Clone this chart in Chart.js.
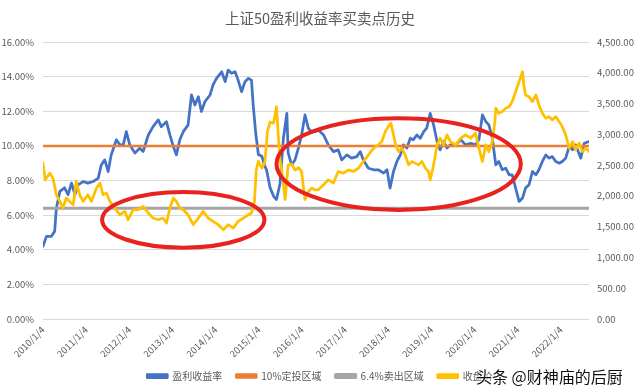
<!DOCTYPE html>
<html><head><meta charset="utf-8">
<script src="https://cdn.jsdelivr.net/npm/chart.js@4.4.1/dist/chart.umd.min.js"></script>
<style>
html,body{margin:0;padding:0;background:#fff;overflow:hidden}
#wrap{position:relative;width:640px;height:391px}
#wm{position:absolute;left:476px;top:364px;font:16px "Noto Sans CJK SC",sans-serif;color:#111;white-space:nowrap;
text-shadow:0 0 2px #fff,0 0 2px #fff,0 0 3px #fff}
</style></head>
<body><div id="wrap"><canvas id="c" width="640" height="391"></canvas><div id="wm">头条 @财神庙的后厨</div></div>
<script>
// ---------- data ----------
const xTickLabels = ['2010/1/4','2011/1/4','2012/1/4','2013/1/4','2014/1/4','2015/1/4','2016/1/4',
  '2017/1/4','2018/1/4','2019/1/4','2020/1/4','2021/1/4','2022/1/4'];

const yieldDates = [
2010.00,2010.08,2010.19,2010.27,2010.31,2010.39,2010.50,2010.58,2010.66,2010.74,
2010.81,2010.93,2011.04,2011.16,2011.28,2011.35,2011.43,2011.51,2011.58,2011.70,
2011.78,2011.86,2011.93,2012.01,2012.13,2012.24,2012.32,2012.44,2012.55,2012.67,
2012.74,2012.86,2012.94,2013.02,2013.09,2013.17,2013.25,2013.36,2013.44,2013.52,
2013.60,2013.67,2013.75,2013.87,2013.94,2014.02,2014.14,2014.22,2014.29,2014.37,
2014.45,2014.52,2014.60,2014.68,2014.76,2014.83,2014.87,2014.93,2014.99,2015.07,
2015.13,2015.18,2015.26,2015.34,2015.41,2015.49,2015.57,2015.65,2015.68,2015.76,
2015.84,2015.92,2015.99,2016.07,2016.15,2016.23,2016.30,2016.38,2016.50,2016.61,
2016.73,2016.84,2016.92,2017.04,2017.15,2017.27,2017.35,2017.42,2017.54,2017.66,
2017.77,2017.89,2017.97,2018.04,2018.12,2018.20,2018.28,2018.35,2018.43,2018.51,
2018.58,2018.66,2018.74,2018.82,2018.89,2018.97,2019.05,2019.13,2019.20,2019.28,
2019.36,2019.44,2019.56,2019.68,2019.79,2019.91,2020.02,2020.10,2020.18,2020.26,
2020.33,2020.41,2020.49,2020.56,2020.64,2020.72,2020.80,2020.87,2020.95,2021.03,
2021.11,2021.18,2021.26,2021.34,2021.42,2021.49,2021.57,2021.65,2021.72,2021.80,
2021.88,2021.96,2022.03,2022.11,2022.19,2022.27,2022.34,2022.46,2022.54,2022.65];

const earningsYield = [
4.20,4.77,4.77,5.06,6.40,7.37,7.58,7.18,7.85,7.18,
7.75,7.94,7.85,7.94,8.14,8.90,9.19,8.52,9.48,10.35,
10.06,10.06,10.82,10.06,9.58,9.87,9.67,10.63,11.11,11.50,
11.11,11.40,10.63,9.96,9.48,10.35,10.82,11.20,12.94,12.36,
12.84,11.98,12.55,12.94,13.52,13.90,14.28,13.71,14.38,14.19,
14.28,13.80,13.13,13.71,13.90,13.80,12.36,10.70,9.50,9.40,
8.90,8.60,7.60,7.10,6.90,7.80,10.44,11.88,9.60,8.90,
9.20,9.90,10.60,11.79,11.00,10.80,10.82,10.92,10.63,10.06,
9.67,9.77,9.19,9.48,9.29,9.38,9.67,9.19,8.71,8.62,
8.62,8.43,8.62,7.56,8.52,9.10,9.48,10.06,9.87,10.44,
10.35,10.63,10.44,10.82,11.02,11.88,11.21,10.25,9.77,10.25,
9.87,10.06,10.06,10.35,10.06,10.15,10.06,10.35,11.79,11.40,
11.21,10.44,8.90,9.10,8.62,8.71,8.33,8.33,7.56,6.79,
6.99,7.56,7.75,8.52,8.33,8.62,9.10,9.48,9.29,9.38,
9.10,9.00,9.10,9.29,9.96,9.77,10.06,9.29,10.15,10.25];

const priceDates = [
2010.00,2010.05,2010.16,2010.23,2010.31,2010.39,2010.46,2010.54,2010.62,2010.70,
2010.77,2010.85,2010.93,2011.04,2011.12,2011.24,2011.32,2011.39,2011.47,2011.55,
2011.66,2011.78,2011.90,2011.97,2012.09,2012.20,2012.32,2012.44,2012.55,2012.67,
2012.78,2012.86,2012.94,2013.02,2013.09,2013.17,2013.25,2013.36,2013.48,2013.60,
2013.71,2013.83,2013.94,2014.06,2014.18,2014.29,2014.41,2014.52,2014.64,2014.76,
2014.83,2014.90,2014.94,2014.99,2015.07,2015.14,2015.20,2015.26,2015.34,2015.41,
2015.45,2015.49,2015.53,2015.61,2015.68,2015.76,2015.84,2015.92,2015.99,2016.07,
2016.15,2016.23,2016.30,2016.38,2016.50,2016.61,2016.73,2016.84,2016.96,2017.08,
2017.19,2017.31,2017.42,2017.54,2017.66,2017.77,2017.85,2017.93,2018.00,2018.06,
2018.12,2018.17,2018.24,2018.31,2018.39,2018.47,2018.55,2018.62,2018.70,2018.78,
2018.86,2018.93,2018.97,2019.05,2019.13,2019.20,2019.28,2019.36,2019.44,2019.56,
2019.68,2019.79,2019.91,2020.02,2020.10,2020.18,2020.26,2020.33,2020.41,2020.47,
2020.49,2020.56,2020.64,2020.72,2020.80,2020.87,2020.95,2021.03,2021.11,2021.14,
2021.18,2021.26,2021.34,2021.42,2021.49,2021.57,2021.65,2021.72,2021.80,2021.88,
2021.96,2022.03,2022.11,2022.19,2022.27,2022.34,2022.42,2022.50,2022.58,2022.65];

const closePrice = [
2532,2261,2370,2289,2018,1910,1803,1965,1910,1856,
2234,2018,1910,2018,1910,2127,2208,2018,2046,1910,
1803,1694,1748,1613,1775,1775,1829,1721,1640,1613,
1640,1559,1803,1965,1910,1803,1775,1694,1532,1640,
1748,1640,1586,1532,1451,1532,1478,1586,1640,1694,
1721,1910,2420,2560,2450,2550,3050,3200,3180,3445,
2991,2600,2420,1940,2500,2520,2420,2460,2400,1940,
2072,2127,2099,2099,2180,2261,2208,2396,2370,2423,
2396,2451,2558,2667,2775,2829,2882,3044,3125,3180,
2991,2829,2720,2775,2667,2504,2558,2532,2504,2558,
2451,2396,2261,2504,2829,2937,2829,2991,2882,2829,
2937,2991,2937,3018,2775,2558,2829,2720,2882,3206,
3424,3342,3369,3424,3449,3531,3693,3855,4017,3801,
3639,3612,3531,3639,3477,3342,3261,3288,3234,3288,
3206,3125,2991,2775,2882,2748,2856,2720,2775,2720];

const buyLevel = 10;    // 10%定投区域
const sellLevel = 6.4;  // 6.4%卖出区域
const seriesNames = ['盈利收益率','10%定投区域','6.4%卖出区域','收盘价'];

// hand-drawn red ellipses, given in data units (centre year / %, half-width in years / %)
const markedZones = [
  {cx: 2013.25, cy: 5.73, rx: 1.88, ry: 1.61},
  {cx: 2018.24, cy: 8.95, rx: 2.83, ry: 2.65}
];

// ---------- chart ----------
const FONT = "'Noto Sans CJK SC','Liberation Sans',sans-serif";
const TXT = '#595959';
const xStart = yieldDates[0], xEnd = yieldDates[yieldDates.length - 1];

const zip = (xs, ys) => xs.map((x, i) => ({x, y: ys[i]}));
const flat = v => [{x: xStart, y: v}, {x: xEnd, y: v}];

const ellipsePlugin = {
  id: 'zones',
  afterDatasetsDraw(chart) {
    const {ctx, scales: {x, y}} = chart;
    markedZones.forEach(z => {
      const px = x.getPixelForValue(z.cx), py = y.getPixelForValue(z.cy);
      const rx = Math.abs(x.getPixelForValue(z.cx + z.rx) - px);
      const ry = Math.abs(y.getPixelForValue(z.cy + z.ry) - py);
      ctx.save();
      ctx.beginPath();
      ctx.ellipse(px, py, rx, ry, 0, 0, Math.PI * 2);
      ctx.lineWidth = 4;
      ctx.strokeStyle = '#E8221E';
      ctx.stroke();
      ctx.restore();
    });
  }
};

const line = (label, data, color, width, axis, order) => ({
  label, data, borderColor: color, backgroundColor: color, borderWidth: width,
  pointRadius: 0, tension: 0, yAxisID: axis, order, borderJoinStyle: 'round', borderCapStyle: 'round'
});

new Chart(document.getElementById('c'), {
  type: 'line',
  data: {
    datasets: [
      line(seriesNames[0], zip(yieldDates, earningsYield), '#4472C4', 2.75, 'y', 4),
      line(seriesNames[1], flat(buyLevel), '#ED7D31', 2.5, 'y', 3),
      line(seriesNames[2], flat(sellLevel), '#A5A5A5', 3, 'y', 2),
      line(seriesNames[3], zip(priceDates, closePrice), '#FFC000', 2.75, 'y1', 1)
    ]
  },
  options: {
    responsive: false,
    animation: false,
    devicePixelRatio: 1,
    parsing: false,
    layout: {padding: {left: 0, right: 0, top: 0, bottom: 0}},
    plugins: {
      tooltip: {enabled: false},
      title: {
        display: true, text: '上证50盈利收益率买卖点历史', color: TXT,
        font: {family: FONT, size: 14.5, weight: 'normal'}, padding: {top: 10, bottom: 14.6}
      },
      legend: {
        position: 'bottom',
        labels: {
          color: TXT, font: {family: FONT, size: 10}, boxWidth: 20, boxHeight: 3, padding: 14,
          sort: (a, b) => a.datasetIndex - b.datasetIndex
        }
      }
    },
    scales: {
      x: {
        type: 'linear', min: xStart, max: xEnd,
        afterBuildTicks: s => { s.ticks = xTickLabels.map(l => ({value: parseInt(l, 10)})); },
        afterFit: s => { s.height = 38; },
        ticks: {
          autoSkip: false, minRotation: 45, maxRotation: 45, padding: 5, color: TXT,
          font: {family: FONT, size: 9.5},
          callback: (v, i) => xTickLabels[i]
        },
        grid: {display: false, drawTicks: false},
        border: {display: false}
      },
      y: {
        position: 'left', min: 0, max: 16,
        afterFit: s => { s.width = 43; },
        ticks: {stepSize: 2, padding: 9, color: TXT, font: {family: FONT, size: 9.5},
          callback: v => v.toFixed(2) + '%'},
        grid: {color: '#D9D9D9', lineWidth: 1, drawTicks: false},
        border: {display: false}
      },
      y1: {
        position: 'right', min: 0, max: 4500,
        afterFit: s => { s.width = 51; },
        ticks: {stepSize: 500, padding: 8, color: TXT, font: {family: FONT, size: 9.5},
          callback: v => v.toLocaleString('en-US', {minimumFractionDigits: 2, maximumFractionDigits: 2})},
        grid: {drawOnChartArea: false, drawTicks: false},
        border: {display: false}
      }
    }
  },
  plugins: [ellipsePlugin]
});
</script>
</body></html>
